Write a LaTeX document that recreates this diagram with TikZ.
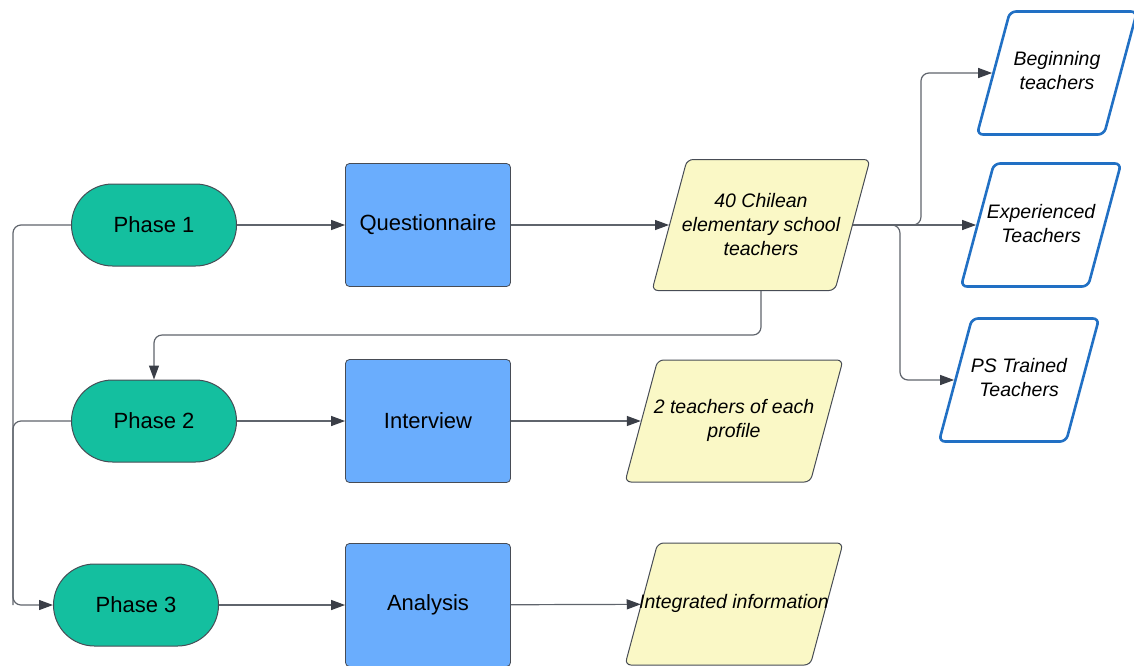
\documentclass[tikz,border=0pt]{standalone}
\usepackage{fontspec}
\setmainfont{Liberation Sans}
\usepackage{tikz}
\usepackage{xcolor}
\usetikzlibrary{arrows.meta,positioning,calc,shapes.geometric}
\definecolor{phasegreen}{HTML}{14BF9F}
\definecolor{stepblue}{HTML}{6AADFD}
\definecolor{datayellow}{HTML}{FAF8C6}
\definecolor{profileblue}{HTML}{2170C4}
\definecolor{edgegray}{HTML}{474C55}
\definecolor{linegray}{HTML}{5F646C}
\definecolor{tipgray}{HTML}{3A3E47}

\tikzset{
  phase/.style={draw=edgegray,line width=1pt,fill=phasegreen,rounded corners=41pt,
    minimum width=165pt,minimum height=82pt,font=\fontsize{22}{26}\selectfont},
  stepbox/.style={draw=edgegray,line width=0.8pt,fill=stepblue,rounded corners=4pt,
    minimum width=165pt,minimum height=123pt,font=\fontsize{22}{26}\selectfont},
  para/.style={trapezium,trapezium left angle=75,trapezium right angle=105,
    trapezium stretches body,inner xsep=0pt,rounded corners=6pt},
  paratext/.style={align=center,yshift=0.5pt,font=\fontsize{19.5}{24}\selectfont\itshape},
  result/.style={para,draw=edgegray,line width=1pt,fill=datayellow,
    minimum width=218pt,inner ysep=61pt},
  profile/.style={para,draw=profileblue,line width=2.6pt,fill=white,
    minimum width=160pt,inner ysep=61.5pt},
  conn/.style={draw=linegray,line width=1.2pt,rounded corners=8pt,
    -{Triangle[length=14pt,width=10pt,color=tipgray]}},
}

\begin{document}
\begin{tikzpicture}[x=1pt,y=-1pt]
\useasboundingbox (0,0) rectangle (1134,665);

\node[phase] (ph1) at (154,225) {Phase 1};
\node[phase] (ph2) at (154,421) {Phase 2};
\node[phase] (ph3) at (136,605) {Phase 3};

\node[stepbox] (quest) at (428,225) {Questionnaire};
\node[stepbox] (inter) at (428,421) {Interview};
\node[stepbox] (anal) at (428,605) {Analysis};

\node[result,inner ysep=65.5pt,
  label={[paratext]center:{40 Chilean\\elementary school\\teachers}}] (chil) at (761,225) {};
\node[result,label={[paratext]center:{2 teachers of each\\profile}}] (pair) at (734,421) {};
\node[result,label={[paratext]center:{Integrated information}}] (integ) at (734,604) {};

\node[profile,label={[paratext,yshift=1.5pt]center:{Beginning\\teachers}}] (begin) at (1057,73) {};
\node[profile,label={[paratext,yshift=1pt]center:{Experienced\\Teachers}}] (exper) at (1041,225) {};
\node[profile,label={[paratext,yshift=1.5pt]center:{PS Trained\\Teachers}}] (trained) at (1019,380) {};

\draw[conn] (ph1) -- (quest);
\draw[conn] (quest) -- (chil);
\draw[conn] (ph2) -- (inter);
\draw[conn] (inter) -- (pair);
\draw[conn] (ph3) -- (anal);
\draw[conn] (anal) -- (integ);

\coordinate (rail) at (13,605);
\draw[conn] (ph1.west) -| (rail) -- (ph3.west);
\draw[conn,-] (ph2.west) -| (rail);

\draw[conn] (chil.south -| chil.center) -- ++(0,44) -| (ph2.north);

\draw[conn] (chil) -- (exper);
\draw[conn] (chil.east) -- ++(68,0) |- (begin);
\draw[conn] (chil.east) -- ++(47,0) |- (trained);
\end{tikzpicture}
\end{document}
